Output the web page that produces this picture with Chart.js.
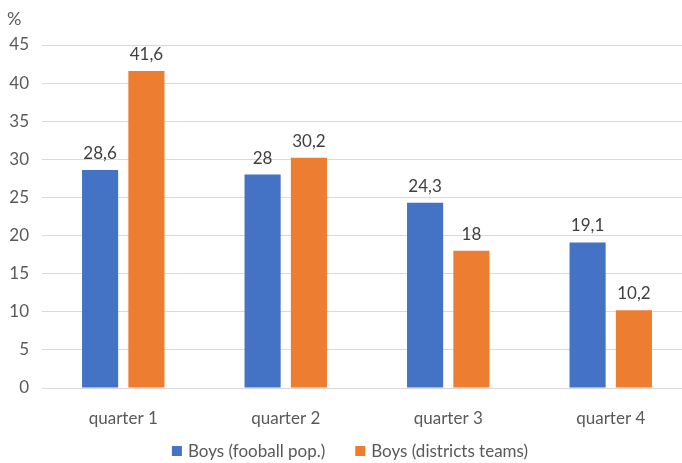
<!DOCTYPE html>
<html>
<head>
<meta charset="utf-8">
<script src="https://cdn.jsdelivr.net/npm/chart.js@4.4.0/dist/chart.umd.min.js"></script>
<style>
  html, body { margin: 0; padding: 0; background: #fff; overflow: hidden; }
  #wrap { width: 692px; height: 463px; }
</style>
</head>
<body>
<div id="wrap"><canvas id="myChart" width="692" height="463"></canvas></div>
<script>
const categories = ['quarter 1', 'quarter 2', 'quarter 3', 'quarter 4'];
const footballPop = [28.6, 28, 24.3, 19.1];
const districtTeams = [41.6, 30.2, 18, 10.2];
const seriesNames = ['Boys (fooball pop.)', 'Boys (districts teams)'];

const FONT = 'Lato, "Open Sans", sans-serif';
const TEXT = '#595959';

// values above bars, with decimal comma
const barValues = {
  id: 'barValues',
  afterDatasetsDraw(chart) {
    const ctx = chart.ctx;
    ctx.save();
    ctx.font = '17px ' + FONT;
    ctx.fillStyle = '#404040';
    ctx.textAlign = 'center';
    ctx.textBaseline = 'bottom';
    chart.data.datasets.forEach((ds, i) => {
      chart.getDatasetMeta(i).data.forEach((bar, j) => {
        ctx.fillText(String(ds.data[j]).replace('.', ','), bar.x, bar.y - 8);
      });
    });
    ctx.restore();
  }
};

// unit label above the y axis + legend row under the chart
const extras = {
  id: 'extras',
  afterDraw(chart) {
    const ctx = chart.ctx;
    ctx.save();
    ctx.font = '18px ' + FONT;
    ctx.fillStyle = TEXT;
    ctx.textAlign = 'left';
    ctx.textBaseline = 'middle';
    ctx.fillText('%', 7, 19);

    const box = 10, gap = 6, spacing = 30, y = 451;
    ctx.font = '17px ' + FONT;
    const items = chart.data.datasets.map(ds => ({
      text: ds.label, color: ds.backgroundColor, w: box + gap + ctx.measureText(ds.label).width,
    }));
    const total = items.reduce((s, it) => s + it.w, 0) + spacing * (items.length - 1);
    let x = (700 - total) / 2;
    items.forEach(it => {
      ctx.fillStyle = it.color;
      ctx.fillRect(x, y - box / 2, box, box);
      ctx.fillStyle = TEXT;
      ctx.fillText(it.text, x + box + gap, y + 1);
      x += it.w + spacing;
    });
    ctx.restore();
  }
};

const ctx = document.getElementById('myChart').getContext('2d');
// eslint-disable-next-line
var myChart = new Chart(ctx, {
  type: 'bar',
  data: {
    labels: categories,
    datasets: [
      { label: seriesNames[0], data: footballPop, backgroundColor: '#4472C4' },
      { label: seriesNames[1], data: districtTeams, backgroundColor: '#ED7D31' },
    ],
  },
  options: {
    responsive: false,
    animation: false,
    layout: { padding: { top: 45, left: 0, right: 0, bottom: 35 } },
    datasets: { bar: { categoryPercentage: 0.57, barPercentage: 0.78 } },
    scales: {
      x: {
        grid: { display: false },
        border: { display: false },
        ticks: { color: TEXT, font: { family: FONT, size: 17 }, padding: 12 },
        afterFit(scale) { scale.height = 40; },
      },
      y: {
        min: 0,
        max: 45,
        ticks: { stepSize: 5, color: TEXT, font: { family: FONT, size: 17 }, padding: 13 },
        grid: { color: '#D9D9D9', lineWidth: 1, drawTicks: false },
        border: { display: false },
        afterFit(scale) { scale.width = 42; },
      },
    },
    plugins: {
      tooltip: { enabled: false },
      legend: { display: false },
    },
  },
  plugins: [barValues, extras],
});
</script>
</body>
</html>
